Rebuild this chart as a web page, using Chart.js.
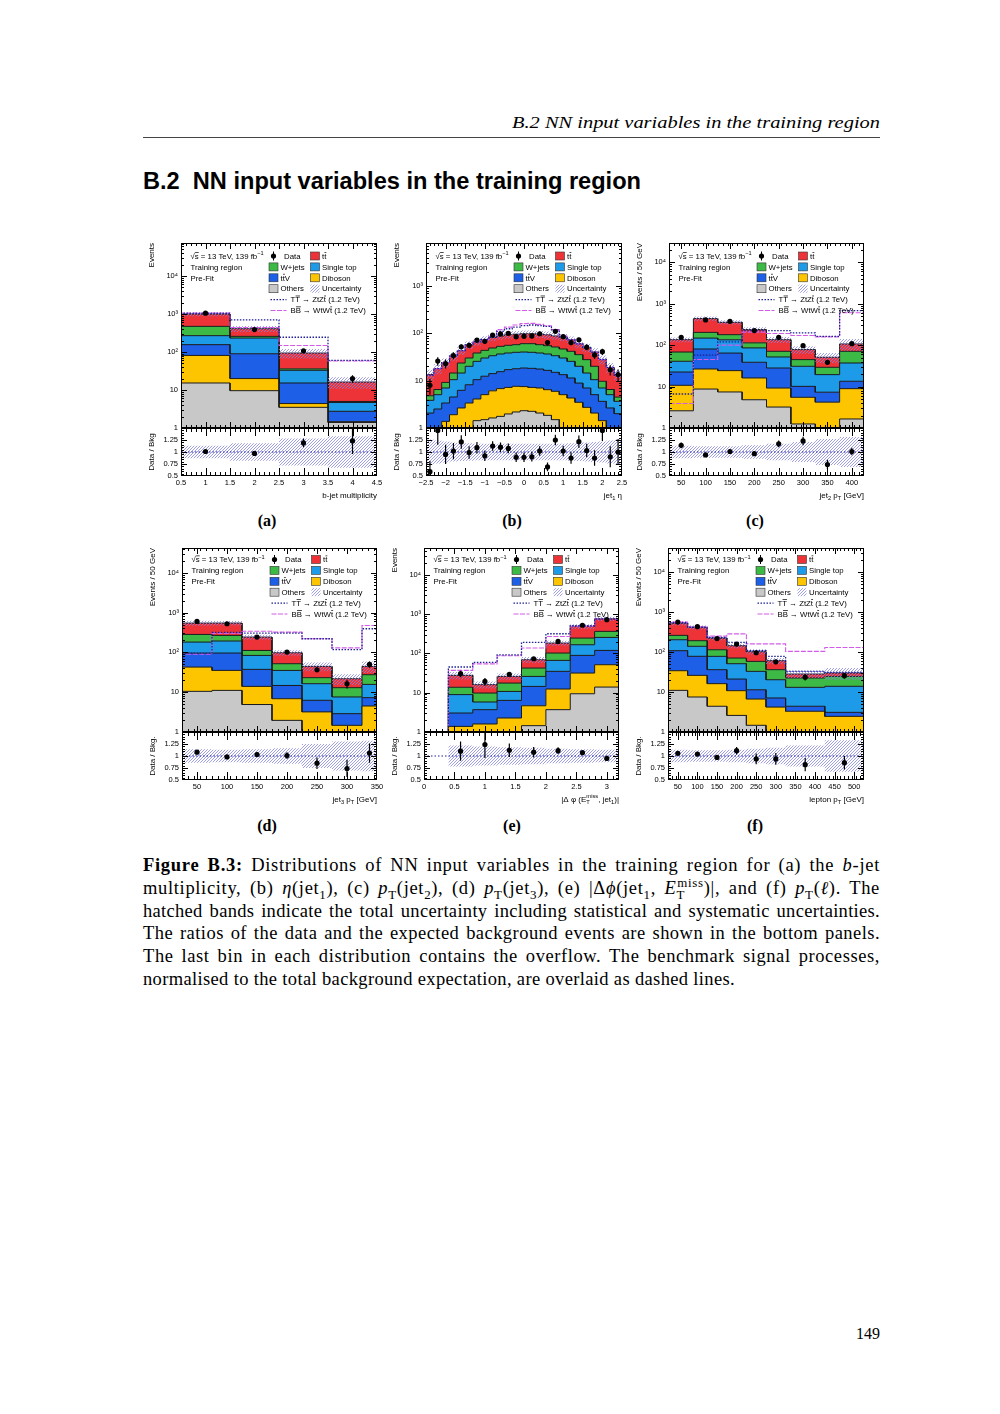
<!DOCTYPE html>
<html>
<head>
<meta charset="utf-8">
<title>B.2 NN input variables in the training region</title>
<script src="https://cdn.jsdelivr.net/npm/chart.js@4.4.1/dist/chart.umd.min.js"></script>
<style>
  html, body { margin: 0; padding: 0; background: #fff; }
  body { position: relative; width: 1000px; height: 1414px; overflow: hidden; font-family: "Liberation Serif", "DejaVu Serif", serif; color: #000; }
  canvas { position: absolute; }
  #runhead { position: absolute; left: 512px; top: 113px; font-style: italic; font-size: 17px; white-space: nowrap; transform-origin: 0 0; }
  #rule { position: absolute; left: 143px; top: 137px; width: 737px; height: 1px; background: #444; }
  #section { position: absolute; left: 143px; top: 168px; font-family: "Liberation Sans", Arial, sans-serif; font-weight: bold; font-size: 23px; white-space: nowrap; transform-origin: 0 0; }
  .sub { position: absolute; width: 60px; margin-left: -30px; text-align: center; font-weight: bold; font-size: 16px; }
  #caption { position: absolute; left: 143px; top: 854px; width: 737px; font-size: 18.5px; line-height: 22.8px; }
  .ln { white-space: nowrap; }
  sub, sup { font-size: 0.7em; line-height: 0; }
  #pageno { position: absolute; right: 120px; top: 1325px; font-size: 16px; }
</style>
</head>
<body>
<div id="runhead">B.2 NN input variables in the training region</div>
<div id="rule"></div>
<div id="section">B.2&nbsp;&nbsp;NN input variables in the training region</div>

<div class="sub" style="left:267px;top:512px">(a)</div>
<div class="sub" style="left:512px;top:512px">(b)</div>
<div class="sub" style="left:755px;top:512px">(c)</div>
<div class="sub" style="left:267px;top:817px">(d)</div>
<div class="sub" style="left:512px;top:817px">(e)</div>
<div class="sub" style="left:755px;top:817px">(f)</div>

<div id="caption">
  <div class="ln"><span><b>Figure B.3:</b> Distributions of NN input variables in the training region for (a) the <i>b</i>-jet</span></div>
  <div class="ln"><span>multiplicity, (b) <i>η</i>(jet<sub>1</sub>), (c) <i>p</i><sub>T</sub>(jet<sub>2</sub>), (d) <i>p</i><sub>T</sub>(jet<sub>3</sub>), (e) |Δ<i>ϕ</i>(jet<sub>1</sub>, <i>E</i><sub>T</sub><sup style="margin-left:-0.6em">miss</sup>)|, and (f) <i>p</i><sub>T</sub>(<i>ℓ</i>). The</span></div>
  <div class="ln"><span>hatched bands indicate the total uncertainty including statistical and systematic uncertainties.</span></div>
  <div class="ln"><span>The ratios of the data and the expected background events are shown in the bottom panels.</span></div>
  <div class="ln"><span>The last bin in each distribution contains the overflow. The benchmark signal processes,</span></div>
  <div class="ln last"><span>normalised to the total background expectation, are overlaid as dashed lines.</span></div>
</div>
<div id="pageno">149</div>

<script>
// (a) b-jet multiplicity
const nbEdges = [0.5, 1.5, 2.5, 3.5, 4.5];
const nbTicks = [0.5, 1, 1.5, 2, 2.5, 3, 3.5, 4, 4.5];
const nbOthers = [15.3, 9.6, 3.5, 1.4];
const nbDiboson = [66, 10.4, 0.9, 0.07];
const nbTtV = [75, 70, 10.9, 1.28];
const nbSingleTop = [113, 143, 17.7, 1.95];
const nbWjets = [204, 25, 3.0, 0.3];
const nbTtbar = [527, 152, 58, 11.2];
const nbData = [1050, 390, 108, 20];
const nbRatio = [1.01, 0.97, 1.19, 1.23];
const nbRatioErr = [0.03, 0.05, 0.09, 0.27];
const nbUnc = [0.13, 0.18, 0.28, 0.33];
const nbSigTT = [1040, 700, 245, 60];
const nbSigBB = [1060, 440, 148, 58];

// (b) eta(jet1)
const etaEdges = [-2.5, -2.3, -2.1, -1.9, -1.7, -1.5, -1.3, -1.1, -0.9, -0.7, -0.5, -0.3, -0.1,
  0.1, 0.3, 0.5, 0.7, 0.9, 1.1, 1.3, 1.5, 1.7, 1.9, 2.1, 2.3, 2.5];
const etaTicks = [-2.5, -2, -1.5, -1, -0.5, 0, 0.5, 1, 1.5, 2, 2.5];
const etaOthers = [0, 0, 0, 0, 0, 0, 1.43, 1.5, 1.63, 1.76, 1.98, 2.18, 2.32, 2.25, 2.07, 1.85, 1.5, 0, 0, 0, 0, 0, 0, 0, 0];
const etaDiboson = [0, 0, 1.38, 1.91, 2.65, 3.37, 2.67, 3.56, 4.47, 5.04, 5.22, 5.42, 5.18, 4.95, 4.93, 4.6, 4.45, 5.06, 4.3, 3.49, 2.73, 2.07, 1.43, 0, 0];
const etaTtV = [2.07, 2.52, 1.99, 2.61, 3.6, 4.83, 6.4, 7.34, 8.0, 8.7, 9.9, 10.3, 11.0, 11.0, 10.6, 10.05, 9.05, 8.34, 7.1, 5.41, 4.27, 2.99, 2.23, 2.65, 2.01];
const etaSingleTop = [1.77, 2.54, 3.63, 5.98, 8.25, 11.9, 15.1, 17.7, 19.6, 21.1, 21.3, 21.8, 21.8, 21.5, 20.8, 20.1, 18.7, 16.7, 14.2, 11.2, 7.5, 5.44, 3.34, 2.41, 1.65];
const etaWjets = [0.96, 1.44, 2.2, 4.0, 9.1, 10.0, 12.8, 13.6, 15.3, 16.5, 17.4, 17.9, 20.2, 20.8, 19.2, 18.3, 17.7, 16.6, 16.1, 15.3, 13.3, 9.6, 2.7, 1.44, 0.84];
const etaTtbar = [8.7, 11.5, 14.8, 18.5, 19.4, 26.9, 27.6, 30.3, 33, 34.9, 37.2, 38.4, 37.5, 37.5, 38.4, 38.1, 36.6, 36.3, 31.3, 24.6, 22.2, 19.9, 18.3, 12.5, 9.0];
const etaData = [8.0, 26, 23, 34, 52, 56, 72, 68, 92, 97, 100, 85, 87, 88, 98, 64, 110, 85, 64, 73, 51, 35, 41, 17, 13.5];
const etaRatio = [0.59, 1.45, 0.95, 1.02, 1.21, 0.99, 1.09, 0.92, 1.125, 1.10, 1.075, 0.89, 0.89, 0.90, 1.02, 0.69, 1.25, 1.02, 0.875, 1.215, 1.03, 0.875, 1.45, 0.9, 1.0];
const etaRatioErr = [0.22, 0.3, 0.2, 0.17, 0.14, 0.13, 0.12, 0.11, 0.1, 0.1, 0.1, 0.1, 0.1, 0.1, 0.1, 0.09, 0.11, 0.11, 0.12, 0.13, 0.14, 0.16, 0.22, 0.22, 0.27];
const etaUnc = [0.26, 0.24, 0.22, 0.2, 0.19, 0.18, 0.17, 0.17, 0.17, 0.17, 0.17, 0.17, 0.17, 0.17, 0.17, 0.17, 0.17, 0.17, 0.18, 0.19, 0.2, 0.21, 0.22, 0.24, 0.26];
const etaSigTT = [13, 18, 24, 33, 43, 57, 66, 74, 84, 110, 125, 135, 145, 150, 145, 140, 118, 84, 73, 60, 50, 40, 28, 19, 13];
const etaSigBB = [13, 18, 24, 33, 43, 57, 66, 74, 90, 120, 135, 150, 160, 162, 155, 145, 120, 88, 73, 60, 50, 40, 28, 19, 13];

// (c) jet2 pT
const pt2Edges = [25, 75, 125, 175, 225, 275, 325, 375, 425];
const pt2Ticks = [50, 100, 150, 200, 250, 300, 350, 400];
const pt2Others = [2.6, 8.7, 7.4, 4.8, 3.2, 1.25, 0.8, 1.65];
const pt2Diboson = [8.1, 17.8, 16.8, 11.3, 6.0, 4.25, 3.4, 7.25];
const pt2TtV = [11.7, 54, 40, 22.4, 18.8, 4.6, 3.1, 4.5];
const pt2SingleTop = [18.3, 67, 70, 47, 23.7, 20.7, 12.1, 23.6];
const pt2Wjets = [27.3, 55, 44, 27.7, 19.1, 13.8, 9.7, 33.8];
const pt2Ttbar = [67, 233, 176, 123, 64, 33.2, 21.7, 35.7];
const pt2Data = [154, 405, 375, 224, 154, 97, 38.5, 108];
const pt2Ratio = [1.14, 0.94, 1.01, 0.965, 1.17, 1.23, 0.74, 1.01];
const pt2RatioErr = [0.06, 0.035, 0.04, 0.05, 0.07, 0.09, 0.1, 0.08];
const pt2Unc = [0.13, 0.12, 0.12, 0.14, 0.17, 0.21, 0.27, 0.31];
const pt2SigTT = [6.6, 57, 119, 224, 224, 196, 163, 680];
const pt2SigBB = [3.9, 45, 100, 205, 190, 170, 158, 600];

// (d) jet3 pT
const pt3Edges = [25, 75, 125, 175, 225, 275, 325, 350];
const pt3Ticks = [50, 100, 150, 200, 250, 300, 350];
const pt3Others = [10.5, 11.1, 4.9, 1.96, 0, 0, 0];
const pt3Diboson = [32.3, 24.2, 9.1, 4.9, 3.2, 1.47, 4.5];
const pt3TtV = [53, 61, 23.4, 7.9, 3.06, 1.42, 2.8];
const pt3SingleTop = [86, 97, 46.6, 20.5, 10.1, 4.7, 8.4];
const pt3Wjets = [101, 74, 28, 16.7, 6.8, 5.4, 11.8];
const pt3Ttbar = [262, 278, 131, 46, 21.4, 8.8, 17];
const pt3Data = [600, 525, 243, 102, 36.7, 16.3, 50];
const pt3Ratio = [1.08, 0.98, 1.03, 1.01, 0.85, 0.74, 1.06];
const pt3RatioErr = [0.03, 0.03, 0.05, 0.07, 0.12, 0.18, 0.2];
const pt3Unc = [0.14, 0.13, 0.14, 0.16, 0.25, 0.3, 0.32];
const pt3SigTT = [96, 320, 306, 306, 220, 117, 393];
const pt3SigBB = [90, 300, 340, 324, 220, 130, 476];

// (e) |dphi(MET, jet1)|
const dphiEdges = [0.4, 0.8, 1.2, 1.6, 2.0, 2.4, 2.8, 3.2];
const dphiTicks = [0, 0.5, 1, 1.5, 2, 2.5, 3];
const dphiOthers = [0, 0, 0, 1.45, 3.7, 9.4, 13.9];
const dphiDiboson = [1.39, 1.6, 2.27, 3.2, 8.7, 22.2, 37.6];
const dphiTtV = [1.65, 2.1, 4.1, 9.8, 22.5, 57.4, 67.5];
const dphiSingleTop = [5.9, 2.1, 4.4, 11.5, 31.5, 77, 136];
const dphiWjets = [4.8, 4.0, 6.8, 16.4, 35.6, 79, 108];
const dphiTtbar = [13.9, 6.2, 8.4, 26.6, 81, 242, 398];
const dphiData = [30.4, 19.4, 29.5, 73, 202, 520, 720];
const dphiRatio = [1.1, 1.24, 1.12, 1.08, 1.11, 1.07, 0.95];
const dphiRatioErr = [0.2, 0.28, 0.14, 0.11, 0.07, 0.04, 0.03];
const dphiUnc = [0.22, 0.2, 0.18, 0.17, 0.15, 0.14, 0.13];
const dphiSigTT = [45, 59, 92, 190, 316, 505, 746];
const dphiSigBB = [37, 54, 87, 137, 270, 490, 750];

// (f) lepton pT
const lepEdges = [25, 75, 125, 175, 225, 275, 325, 425, 525];
const lepTicks = [50, 100, 150, 200, 250, 300, 350, 400, 450, 500];
const lepOthers = [11, 7.5, 4.4, 2.6, 1.47, 0, 0, 0];
const lepDiboson = [23.1, 18.6, 11.8, 8.2, 5.2, 4.2, 3.3, 2.46];
const lepTtV = [74, 52, 20, 10.3, 4.7, 2.9, 1.1, 0.64];
const lepSingleTop = [95, 61, 41.8, 30, 21.5, 13.2, 8.7, 10.8];
const lepWjets = [58, 53, 36, 19.7, 25.5, 15.9, 9.3, 10.7];
const lepTtbar = [270, 222, 110, 73, 43.6, 24.5, 5.8, 5.3];
const lepData = [562, 430, 217, 158, 96, 57, 23.5, 25.7];
const lepRatio = [1.055, 1.04, 0.97, 1.11, 0.94, 0.94, 0.82, 0.86];
const lepRatioErr = [0.03, 0.03, 0.05, 0.08, 0.11, 0.12, 0.14, 0.14];
const lepUnc = [0.13, 0.12, 0.12, 0.13, 0.15, 0.17, 0.22, 0.33];
const lepSigTT = [540, 420, 230, 175, 108, 78, 33, 31];
const lepSigBB = [560, 430, 250, 285, 160, 160, 104, 130];

const ratioTicks = [0.5, 0.75, 1, 1.25];

const FONT = '"Liberation Sans", Arial, Helvetica, sans-serif';
// others, diboson, ttV, single top, W+jets, ttbar (bottom to top)
const STACK_COLORS = ['#c8c8c8', '#fdc400', '#1d5fe6', '#1d9ae8', '#3dba45', '#ee3338'];
const NAVY = '#1f1f96';
const PINK = '#d25ce8';
const AXW = 34, PAD = 10, XAXH = 25, FLOOR = 1e-3;

const panels = [
  { L: 181, R: 377, T: 243, M: 428, B: 476, yMax: 7.4e4, xMin: 0.5, xMax: 4.5, minor: 0.1, legTop: 13,
    yTitle: 'Events', rTitle: 'Data / Bkg', xTitle: 'b-jet multiplicity',
    edges: nbEdges, ticks: nbTicks, stack: [nbOthers, nbDiboson, nbTtV, nbSingleTop, nbWjets, nbTtbar],
    data: nbData, ratio: nbRatio, ratioErr: nbRatioErr, unc: nbUnc, tt: nbSigTT, bb: nbSigBB },
  { L: 426, R: 622, T: 243, M: 428, B: 476, yMax: 8.1e3, xMin: -2.5, xMax: 2.5, minor: 0.1, legTop: 13,
    yTitle: 'Events', rTitle: 'Data / Bkg', xTitle: 'jet_{1} η',
    edges: etaEdges, ticks: etaTicks, stack: [etaOthers, etaDiboson, etaTtV, etaSingleTop, etaWjets, etaTtbar],
    data: etaData, ratio: etaRatio, ratioErr: etaRatioErr, unc: etaUnc, tt: etaSigTT, bb: etaSigBB },
  { L: 669, R: 864, T: 243, M: 428, B: 476, yMax: 2.9e4, xMin: 25, xMax: 425, minor: 10, legTop: 13,
    yTitle: 'Events / 50 GeV', rTitle: 'Data / Bkg', xTitle: 'jet_{2} p_{T} [GeV]',
    edges: pt2Edges, ticks: pt2Ticks, stack: [pt2Others, pt2Diboson, pt2TtV, pt2SingleTop, pt2Wjets, pt2Ttbar],
    data: pt2Data, ratio: pt2Ratio, ratioErr: pt2RatioErr, unc: pt2Unc, tt: pt2SigTT, bb: pt2SigBB },
  { L: 182, R: 377, T: 548, M: 732, B: 780, yMax: 4.2e4, xMin: 25, xMax: 350, minor: 10, legTop: 11.5,
    yTitle: 'Events / 50 GeV', rTitle: 'Data / Bkg.', xTitle: 'jet_{3} p_{T} [GeV]',
    edges: pt3Edges, ticks: pt3Ticks, stack: [pt3Others, pt3Diboson, pt3TtV, pt3SingleTop, pt3Wjets, pt3Ttbar],
    data: pt3Data, ratio: pt3Ratio, ratioErr: pt3RatioErr, unc: pt3Unc, tt: pt3SigTT, bb: pt3SigBB },
  { L: 424, R: 619, T: 548, M: 732, B: 780, yMax: 4.8e4, xMin: 0, xMax: 3.2, minor: 0.1, legTop: 11.5,
    yTitle: 'Events', rTitle: 'Data / Bkg.', xTitle: '|Δ φ (E_{T}^{miss}, jet_{1})|',
    edges: dphiEdges, ticks: dphiTicks, stack: [dphiOthers, dphiDiboson, dphiTtV, dphiSingleTop, dphiWjets, dphiTtbar],
    data: dphiData, ratio: dphiRatio, ratioErr: dphiRatioErr, unc: dphiUnc, tt: dphiSigTT, bb: dphiSigBB },
  { L: 668, R: 864, T: 548, M: 732, B: 780, yMax: 4.0e4, xMin: 25, xMax: 525, minor: 10, legTop: 11.5,
    yTitle: 'Events / 50 GeV', rTitle: 'Data / Bkg.', xTitle: 'lepton p_{T} [GeV]',
    edges: lepEdges, ticks: lepTicks, stack: [lepOthers, lepDiboson, lepTtV, lepSingleTop, lepWjets, lepTtbar],
    data: lepData, ratio: lepRatio, ratioErr: lepRatioErr, unc: lepUnc, tt: lepSigTT, bb: lepSigBB }
];

// hatch for the uncertainty band
const hatch = (function () {
  const c = document.createElement('canvas');
  c.width = 3; c.height = 3;
  const g = c.getContext('2d');
  g.strokeStyle = '#8585e4';
  g.lineWidth = 0.8;
  g.beginPath();
  g.moveTo(0, 3); g.lineTo(3, 0);
  g.moveTo(-1, 1); g.lineTo(1, -1);
  g.moveTo(2, 4); g.lineTo(4, 2);
  g.stroke();
  return g.createPattern(c, 'repeat');
})();

function steps(edges, vals, closed) {
  const pts = [];
  if (closed) pts.push({ x: edges[0], y: FLOOR });
  vals.forEach((v, i) => {
    const y = Math.max(v, FLOOR);
    pts.push({ x: edges[i], y }, { x: edges[i + 1], y });
  });
  if (closed) pts.push({ x: edges[edges.length - 1], y: FLOOR });
  return pts;
}

function range(a, b, step) {
  const out = [];
  for (let v = a; v <= b + 1e-9; v += step) out.push(Math.round(v * 1000) / 1000);
  return out;
}

// text with _{sub}, ^{sup} and #bar{x}
function rich(ctx, str, x, y, size, align) {
  const segs = [];
  const re = /_\{([^}]*)\}|\^\{([^}]*)\}|#bar\{([^}]*)\}|([^_^#]+|[_^#])/g;
  let m;
  while ((m = re.exec(str))) {
    if (m[1] !== undefined) segs.push({ t: m[1], m: -1 });
    else if (m[2] !== undefined) segs.push({ t: m[2], m: 1 });
    else if (m[3] !== undefined) segs.push({ t: m[3], m: 0, bar: true });
    else segs.push({ t: m[4], m: 0 });
  }
  let w = 0, prev = null;
  segs.forEach(s => {
    s.fs = s.m ? size * 0.72 : size;
    ctx.font = s.fs + 'px ' + FONT;
    s.w = ctx.measureText(s.t).width;
    if (s.m === 1 && prev && prev.m === -1) {
      s.x = prev.x;
      w = Math.max(prev.x + prev.w, s.x + s.w);
    } else {
      s.x = w;
      w += s.w;
    }
    prev = s;
  });
  const x0 = align === 'right' ? x - w : align === 'center' ? x - w / 2 : x;
  ctx.textAlign = 'left';
  ctx.textBaseline = 'alphabetic';
  segs.forEach(s => {
    ctx.font = s.fs + 'px ' + FONT;
    const dy = s.m === -1 ? size * 0.28 : s.m === 1 ? -size * 0.42 : 0;
    ctx.fillText(s.t, x0 + s.x, y + dy);
    if (s.bar) ctx.fillRect(x0 + s.x + 0.3, y - size * 0.86, s.w - 0.3, 0.7);
  });
}

function drawLegend(ctx, a, top) {
  const fs = 7.8, dy = 10.9;
  const X = v => a.left + v;
  const Y = k => a.top + top + k * dy;
  const base = k => Y(k) + fs * 0.35;
  ctx.fillStyle = '#000';
  rich(ctx, '√#bar{s} = 13 TeV, 139 fb^{−1}', X(9.5), base(0), fs, 'left');
  rich(ctx, 'Training region', X(9.5), base(1), fs, 'left');
  rich(ctx, 'Pre-Fit', X(9.5), base(2), fs, 'left');

  ctx.beginPath();
  ctx.arc(X(92.5), Y(0), 2.6, 0, 2 * Math.PI);
  ctx.fill();
  ctx.fillRect(X(92), Y(0) - 4.5, 1, 9);
  rich(ctx, 'Data', X(103), base(0), fs, 'left');

  const entries = [
    [0, 1, 5, 't#bar{t}'], [1, 0, 4, 'W+jets'], [1, 1, 3, 'Single top'],
    [2, 0, 2, 't#bar{t}V'], [2, 1, 1, 'Diboson'], [3, 0, 0, 'Others'], [3, 1, -1, 'Uncertainty']
  ];
  entries.forEach(([row, col, k, label]) => {
    const bx = col ? X(129.5) : X(88);
    const tx = col ? X(141) : X(99.5);
    ctx.fillStyle = k >= 0 ? STACK_COLORS[k] : hatch;
    ctx.fillRect(bx, Y(row) - 4, 9, 8);
    if (k >= 0) {
      ctx.strokeStyle = '#333';
      ctx.lineWidth = 0.6;
      ctx.strokeRect(bx, Y(row) - 4, 9, 8);
    }
    ctx.fillStyle = '#000';
    rich(ctx, label, tx, base(row), fs, 'left');
  });

  ctx.save();
  ctx.lineWidth = 1.3;
  ctx.strokeStyle = NAVY;
  ctx.setLineDash([1.5, 1.5]);
  ctx.beginPath(); ctx.moveTo(X(89.5), Y(4)); ctx.lineTo(X(105.5), Y(4)); ctx.stroke();
  ctx.lineWidth = 1.1;
  ctx.strokeStyle = PINK;
  ctx.setLineDash([5, 1.5]);
  ctx.beginPath(); ctx.moveTo(X(89.5), Y(5)); ctx.lineTo(X(105.5), Y(5)); ctx.stroke();
  ctx.restore();
  ctx.fillStyle = '#000';
  rich(ctx, 'T#bar{T} → ZtZ#bar{t} (1.2 TeV)', X(109.5), base(4), fs, 'left');
  rich(ctx, 'B#bar{B} → WtW#bar{t} (1.2 TeV)', X(109.5), base(5), fs, 'left');
}

// frame, inside ticks, error bars, legend and x title
const framePlugin = {
  id: 'frame',
  afterDatasetsDraw(chart, args, o) {
    const ctx = chart.ctx, a = chart.chartArea;
    const xs = chart.scales.x, ys = chart.scales.y;
    ctx.save();
    ctx.beginPath();
    ctx.rect(a.left, a.top, a.right - a.left, a.bottom - a.top);
    ctx.clip();
    ctx.strokeStyle = '#000';
    ctx.lineWidth = 1.2;
    chart.data.datasets.forEach((ds, i) => {
      if (!ds.errors) return;
      const pts = chart.getDatasetMeta(i).data;
      ctx.beginPath();
      ds.data.forEach((d, j) => {
        const lo = Math.max(d.y - ds.errors[j], o.logY ? 0.5 : 0.2);
        ctx.moveTo(pts[j].x, ys.getPixelForValue(lo));
        ctx.lineTo(pts[j].x, ys.getPixelForValue(d.y + ds.errors[j]));
      });
      ctx.stroke();
    });
    ctx.restore();

    ctx.save();
    ctx.strokeStyle = '#000';
    ctx.lineWidth = 1;
    ctx.beginPath();
    const xt = (vals, len) => vals.forEach(v => {
      const px = Math.round(xs.getPixelForValue(v)) + 0.5;
      if (px < a.left || px > a.right) return;
      ctx.moveTo(px, a.bottom); ctx.lineTo(px, a.bottom - len);
      ctx.moveTo(px, a.top); ctx.lineTo(px, a.top + len);
    });
    const yt = (vals, len) => vals.forEach(v => {
      const py = Math.round(ys.getPixelForValue(v)) + 0.5;
      if (py < a.top || py > a.bottom) return;
      ctx.moveTo(a.left, py); ctx.lineTo(a.left + len, py);
      ctx.moveTo(a.right, py); ctx.lineTo(a.right - len, py);
    });
    xt(o.xMajor, o.xLen); xt(o.xMinor, o.xLen / 2);
    yt(o.yMajor, o.yLen); yt(o.yMinor, o.yLen / 2);
    ctx.stroke();
    ctx.strokeRect(a.left + 0.5, a.top + 0.5, a.right - a.left - 1, a.bottom - a.top - 1);
    if (o.legend) drawLegend(ctx, a, o.legTop);
    if (o.xTitle) {
      ctx.fillStyle = '#000';
      rich(ctx, o.xTitle, a.right, a.bottom + 21.8, 8, 'right');
    }
    ctx.restore();
  }
};

const SUP = ['', '', '²', '³', '⁴', '⁵'];
function logLabel(v) {
  const e = Math.round(Math.log10(v));
  return e === 0 ? '1' : e === 1 ? '10' : '10' + SUP[e];
}

const tickFont = { family: FONT, size: 7.5 };
const titleFont = { family: FONT, size: 8 };

function makeCanvas(left, top, w, h) {
  const cv = document.createElement('canvas');
  cv.width = w; cv.height = h;
  cv.style.left = left + 'px';
  cv.style.top = top + 'px';
  document.body.appendChild(cv);
  return cv;
}

panels.forEach(p => {
  const n = p.edges.length - 1;
  const centers = p.edges.slice(0, n).map((e, i) => (e + p.edges[i + 1]) / 2);
  const xMinor = range(p.xMin, p.xMax, p.minor).filter(v => !p.ticks.includes(v));

  // ---- main panel ----
  const decades = [1, 10, 100, 1000, 10000].filter(v => v <= p.yMax);
  const logMinor = [];
  decades.forEach(d => { for (let k = 2; k <= 9; k++) if (k * d <= p.yMax) logMinor.push(k * d); });

  const ds = [];
  let cum = new Array(n).fill(0);
  p.stack.forEach((vals, k) => {
    cum = cum.map((c, i) => c + vals[i]);
    ds.push({ data: steps(p.edges, cum, true), backgroundColor: STACK_COLORS[k], borderColor: '#1a1a1a',
      borderWidth: 1, fill: k ? '-1' : 'start', order: 10 });
  });
  const total = cum;
  ds.push({ data: steps(p.edges, total.map((t, i) => t * (1 - p.unc[i]))), borderColor: 'rgba(0,0,0,0)',
    borderWidth: 0, fill: false, order: 5 });
  ds.push({ data: steps(p.edges, total.map((t, i) => t * (1 + p.unc[i]))), borderColor: 'rgba(0,0,0,0)',
    borderWidth: 0, backgroundColor: hatch, fill: '-1', order: 5 });
  ds.push({ data: steps(p.edges, p.tt, true), borderColor: NAVY, borderWidth: 1.3, borderDash: [1.5, 1.5], fill: false, order: 3 });
  ds.push({ data: steps(p.edges, p.bb, true), borderColor: PINK, borderWidth: 1.1, borderDash: [5, 1.5], fill: false, order: 3 });
  ds.push({ data: centers.map((x, i) => ({ x, y: p.data[i] })), showLine: false, fill: false,
    pointRadius: 2.6, pointBackgroundColor: '#000', pointBorderColor: '#000', pointBorderWidth: 0,
    errors: p.data.map((d, i) => d * p.ratioErr[i] / p.ratio[i]), order: 0 });

  const mainCv = makeCanvas(p.L - AXW, p.T - PAD, p.R - p.L + AXW + PAD, p.M - p.T + 2 * PAD);
  new Chart(mainCv, {
    type: 'line',
    data: { datasets: ds },
    options: {
      responsive: false, maintainAspectRatio: false, animation: false, events: [],
      layout: { padding: { left: 0, top: PAD, right: PAD, bottom: PAD } },
      elements: { point: { radius: 0 }, line: { tension: 0 } },
      plugins: {
        legend: { display: false }, tooltip: { enabled: false },
        frame: { xMajor: p.ticks, xMinor, yMajor: decades, yMinor: logMinor, xLen: 6, yLen: 6,
          legend: true, legTop: p.legTop, logY: true }
      },
      scales: {
        x: { type: 'linear', display: false, min: p.xMin, max: p.xMax },
        y: {
          type: 'logarithmic', min: 1, max: p.yMax,
          afterBuildTicks: s => { s.ticks = decades.map(v => ({ value: v })); },
          afterFit: s => { s.width = AXW; },
          grid: { display: false, drawTicks: false }, border: { display: false },
          ticks: { padding: 3, autoSkip: false, color: '#000', font: tickFont, callback: v => logLabel(v) },
          title: { display: true, text: p.yTitle, align: 'end', color: '#000', font: titleFont, padding: 0 }
        }
      }
    },
    plugins: [framePlugin]
  });

  // ---- ratio panel ----
  const rds = [
    { data: steps(p.edges, p.unc.map(u => 1 - u)), borderColor: 'rgba(0,0,0,0)', borderWidth: 0, fill: false, order: 5 },
    { data: steps(p.edges, p.unc.map(u => 1 + u)), borderColor: 'rgba(0,0,0,0)', borderWidth: 0,
      backgroundColor: hatch, fill: '-1', order: 5 },
    { data: [{ x: p.xMin, y: 1 }, { x: p.xMax, y: 1 }], borderColor: NAVY, borderWidth: 1,
      borderDash: [1.5, 2], fill: false, order: 3 },
    { data: centers.map((x, i) => ({ x, y: p.ratio[i] })), showLine: false, fill: false,
      pointRadius: 2.6, pointBackgroundColor: '#000', pointBorderColor: '#000', pointBorderWidth: 0,
      errors: p.ratioErr, order: 0 }
  ];
  const ratioCv = makeCanvas(p.L - AXW, p.M - PAD, p.R - p.L + AXW + PAD, PAD + (p.B - p.M) + XAXH);
  new Chart(ratioCv, {
    type: 'line',
    data: { datasets: rds },
    options: {
      responsive: false, maintainAspectRatio: false, animation: false, events: [],
      layout: { padding: { left: 0, top: PAD, right: PAD, bottom: 0 } },
      elements: { point: { radius: 0 }, line: { tension: 0 } },
      plugins: {
        legend: { display: false }, tooltip: { enabled: false },
        frame: { xMajor: p.ticks, xMinor, yMajor: ratioTicks, yMinor: range(0.5, 1.5, 0.05).filter(v => !ratioTicks.includes(v)),
          xLen: 8, yLen: 6, legend: false, xTitle: p.xTitle, logY: false }
      },
      scales: {
        x: {
          type: 'linear', min: p.xMin, max: p.xMax,
          afterBuildTicks: s => { s.ticks = p.ticks.map(v => ({ value: v })); },
          afterFit: s => { s.height = XAXH; },
          grid: { display: false, drawTicks: false }, border: { display: false },
          ticks: { padding: 2, autoSkip: false, maxRotation: 0, color: '#000', font: tickFont,
            callback: v => String(v).replace('-', '−') }
        },
        y: {
          type: 'linear', min: 0.5, max: 1.5,
          afterBuildTicks: s => { s.ticks = ratioTicks.map(v => ({ value: v })); },
          afterFit: s => { s.width = AXW; },
          grid: { display: false, drawTicks: false }, border: { display: false },
          ticks: { padding: 3, autoSkip: false, color: '#000', font: tickFont, callback: v => String(v) },
          title: { display: true, text: p.rTitle, align: 'center', color: '#000', font: titleFont, padding: 0 }
        }
      }
    },
    plugins: [framePlugin]
  });
});

// page text fitting
function fitWidth(id, target) {
  const el = document.getElementById(id);
  const w = el.getBoundingClientRect().width;
  el.style.transform = 'scaleX(' + (target / w) + ')';
}
fitWidth('runhead', 368);
fitWidth('section', 498);

// justify caption lines: share the slack between letters and word gaps
document.querySelectorAll('.ln:not(.last) > span').forEach(sp => {
  const w = sp.getBoundingClientRect().width;
  const txt = sp.textContent;
  const nSp = (txt.match(/ /g) || []).length;
  const nCh = txt.length;
  const slack = 737 - w;
  const ls = slack * 0.6 / nCh;
  sp.style.letterSpacing = ls + 'px';
  const w2 = sp.getBoundingClientRect().width;
  sp.style.wordSpacing = ((737 - w2) / nSp) + 'px';
});
document.querySelectorAll('.ln.last > span').forEach(sp => {
  sp.style.letterSpacing = '0.35px';
});
</script>
</body>
</html>
